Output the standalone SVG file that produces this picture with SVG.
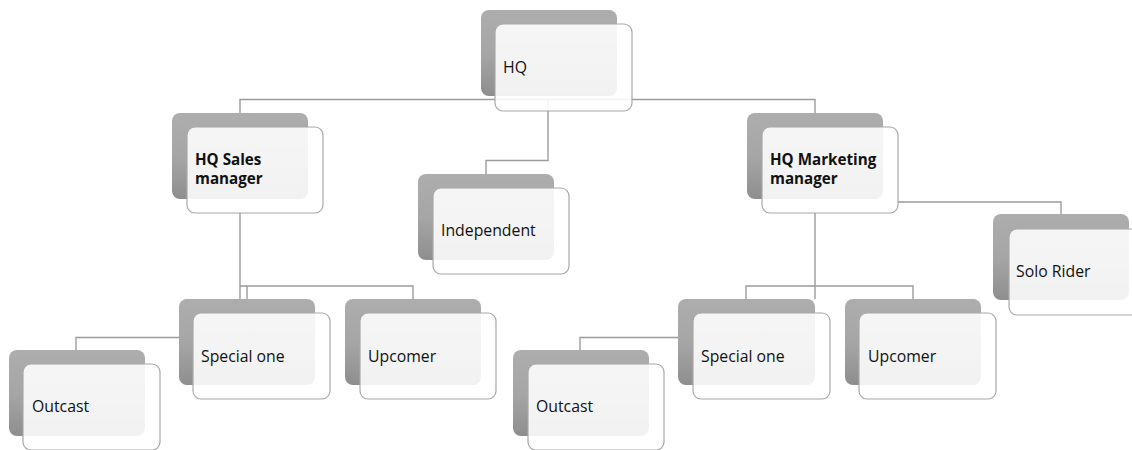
<svg xmlns="http://www.w3.org/2000/svg" width="1132" height="450" viewBox="0 0 1132 450">
<defs>
<linearGradient id="g" x1="0" y1="0" x2="0" y2="1">
<stop offset="0" stop-color="#adadad"/>
<stop offset="0.5" stop-color="#a6a6a6"/>
<stop offset="1" stop-color="#8e8e8e"/>
</linearGradient>
<style>
.bk{fill:url(#g);stroke:none}
.fr{fill:#ffffff;fill-opacity:0.88;stroke:#a8a8a8;stroke-width:1.2}
.t{font-family:"Open Sans","Liberation Sans",sans-serif;font-size:15.8px;fill:#111}
.b{font-weight:bold;font-size:15.2px}
.c{fill:none;stroke:#9c9c9c;stroke-width:1.4}
</style>
</defs>
<rect width="1132" height="450" fill="#ffffff"/>
<g id="connectors">
<path class="c" d="M240,113 V99.5 H815 V113"/>
<path class="c" d="M548,99.5 V160.5 H486 V174"/>
<path class="c" d="M240,213 V299 M240,286 H413 V299 M247,286 V299"/>
<path class="c" d="M815,213 V299 M746,299 V286 H913 V299"/>
<path class="c" d="M179,337.5 H76 V350"/>
<path class="c" d="M678,337.5 H580 V350"/>
<path class="c" d="M898,202 H1061 V214"/>
</g>
<g id="hq">
<rect class="bk" x="481" y="10" width="136" height="86" rx="8"/>
<rect class="fr" x="495" y="24" width="137" height="87" rx="8"/>
<text class="t" x="503" y="73">HQ</text>
</g>
<g id="sales">
<rect class="bk" x="172" y="113" width="136" height="86" rx="8"/>
<rect class="fr" x="187" y="127" width="136" height="86" rx="8"/>
<text class="t b" x="195" y="165">HQ Sales</text>
<text class="t b" x="195" y="184">manager</text>
</g>
<g id="independent">
<rect class="bk" x="418" y="174" width="136" height="86" rx="8"/>
<rect class="fr" x="433" y="188" width="136" height="86" rx="8"/>
<text class="t" x="441" y="236">Independent</text>
</g>
<g id="marketing">
<rect class="bk" x="747" y="113" width="136" height="86" rx="8"/>
<rect class="fr" x="762" y="127" width="136" height="86" rx="8"/>
<text class="t b" x="770" y="165">HQ Marketing</text>
<text class="t b" x="770" y="184">manager</text>
</g>
<g id="solo">
<rect class="bk" x="993" y="214" width="136" height="86" rx="8"/>
<rect class="fr" x="1009" y="229" width="136" height="86" rx="8"/>
<text class="t" x="1016" y="277">Solo Rider</text>
</g>
<g id="special1">
<rect class="bk" x="179" y="299" width="136" height="86" rx="8"/>
<rect class="fr" x="193" y="313" width="137" height="86" rx="8"/>
<text class="t" x="201" y="362">Special one</text>
</g>
<g id="upcomer1">
<rect class="bk" x="345" y="299" width="136" height="86" rx="8"/>
<rect class="fr" x="360" y="313" width="136" height="86" rx="8"/>
<text class="t" x="368" y="362">Upcomer</text>
</g>
<g id="outcast1">
<rect class="bk" x="9" y="350" width="136" height="86" rx="8"/>
<rect class="fr" x="23" y="364" width="137" height="86" rx="8"/>
<text class="t" x="32" y="412">Outcast</text>
</g>
<g id="special2">
<rect class="bk" x="678" y="299" width="137" height="86" rx="8"/>
<rect class="fr" x="693" y="313" width="137" height="86" rx="8"/>
<text class="t" x="701" y="362">Special one</text>
</g>
<g id="upcomer2">
<rect class="bk" x="845" y="299" width="136" height="86" rx="8"/>
<rect class="fr" x="859" y="313" width="137" height="86" rx="8"/>
<text class="t" x="868" y="362">Upcomer</text>
</g>
<g id="outcast2">
<rect class="bk" x="513" y="350" width="136" height="86" rx="8"/>
<rect class="fr" x="528" y="364" width="136" height="86" rx="8"/>
<text class="t" x="536" y="412">Outcast</text>
</g>
</svg>
